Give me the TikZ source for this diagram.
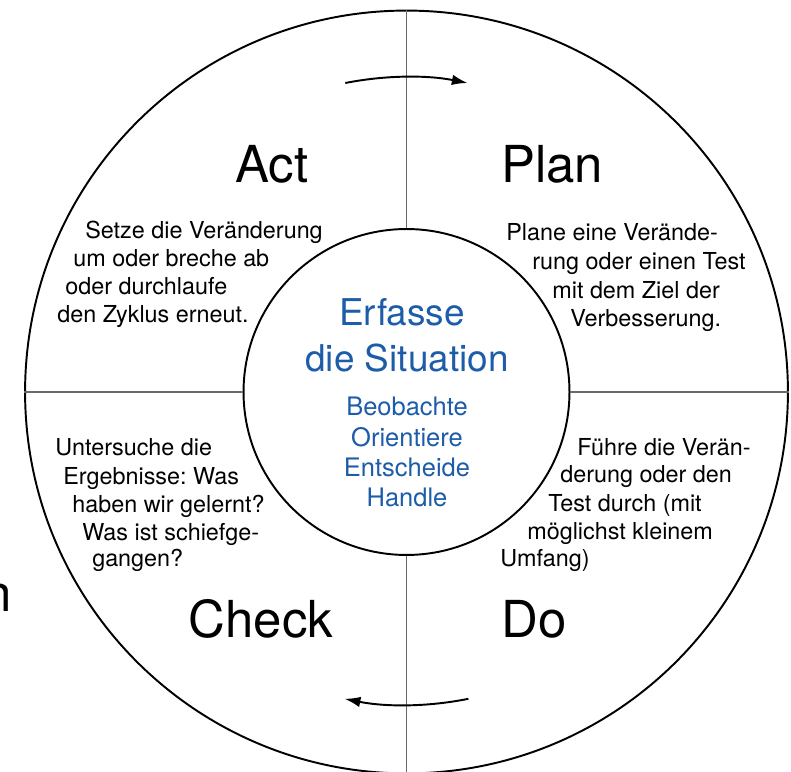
\documentclass[tikz,border=0pt]{standalone}
\usepackage{fontspec}
\setmainfont{TeX Gyre Heros}
\usetikzlibrary{arrows.meta}
\definecolor{situationBlue}{RGB}{28, 92, 168}
\definecolor{crossGray}{RGB}{105, 105, 105}
\frenchspacing

\begin{document}
\begin{tikzpicture}[x=0.02cm,y=0.02cm,
    ring/.style={draw,circle,line width=1.1pt,inner sep=0pt},
    crossLine/.style={draw=crossGray,line width=1.1pt},
    cycleArrow/.style={line width=1.1pt,-{Latex[length=9pt,width=6pt]}},
    phase/.style={font=\fontsize{29}{34}\selectfont,anchor=base,inner sep=0pt},
    body/.style={font=\fontsize{13.3}{16}\selectfont,anchor=base west,inner sep=0pt},
    title/.style={font=\fontsize{21}{25}\selectfont,text=situationBlue,anchor=base,inner sep=0pt},
    steps/.style={font=\fontsize{14.5}{17}\selectfont,text=situationBlue,anchor=base,inner sep=0pt}]
  \useasboundingbox (0,0) rectangle (791,771);

  % Circles
  \coordinate (c) at (406.5,379);
  \node[ring,minimum size=15.26cm] (outer) at (c) {};
  \node[ring,minimum size=6.52cm] (inner) at (c) {};

  % Quadrant lines
  \draw[crossLine] (outer.north) -- (inner.north);
  \draw[crossLine] (outer.south) -- (inner.south);
  \draw[crossLine] (outer.west) -- (inner.west);
  \draw[crossLine] (outer.east) -- (inner.east);

  % Direction arrows
  \coordinate (topStart) at ([shift={(101.2:315)}]c);
  \coordinate (bottomStart) at ([shift={(-78.6:313)}]c);
  \draw[cycleArrow] (topStart) arc[start angle=101.2,end angle=78.8,radius=315];
  \draw[cycleArrow] (bottomStart) arc[start angle=-78.6,end angle=-101.4,radius=313];

  % Phase names
  \node[phase] (act) at (272,588) {Act};
  \node[phase] (plan) at (552,588) {Plan};
  \node[phase] (check) at (261,133) {Check};
  \node[phase] (do) at (534,133) {Do};
  \node[phase,anchor=base east] (cutoff) at (12,159) {n};

  % Act text
  \node[body] (act1) at (85,532) {Setze die Veränderung};
  \node[body] (act2) at (73,504) {um oder breche ab};
  \node[body] (act3) at (65,476) {oder durchlaufe};
  \node[body] (act4) at (57,448) {den Zyklus erneut.};

  % Plan text
  \node[body] (plan1) at (506,530) {Plane eine Verände-};
  \node[body] (plan2) at (532,501) {rung oder einen Test};
  \node[body] (plan3) at (552,472) {mit dem Ziel der};
  \node[body] (plan4) at (570,444) {Verbesserung.};

  % Check text
  \node[body] (check1) at (55,315) {Untersuche die};
  \node[body] (check2) at (63,286) {Ergebnisse: Was};
  \node[body] (check3) at (72,258) {haben wir gelernt?};
  \node[body] (check4) at (82,230) {Was ist schiefge-};
  \node[body] (check5) at (92,204) {gangen?};

  % Do text
  \node[body] (do1) at (577,315) {Führe die Verän-};
  \node[body] (do2) at (560,288) {derung oder den};
  \node[body] (do3) at (548,259) {Test durch (mit};
  \node[body] (do4) at (527,231) {möglichst kleinem};
  \node[body] (do5) at (500,204) {Umfang)};

  % Centre
  \node[title] (title1) at (402,445) {Erfasse};
  \node[title] (title2) at (407,399) {die Situation};
  \node[steps] (observe) at (407,355) {Beobachte};
  \node[steps] (orient) at (407,324) {Orientiere};
  \node[steps] (decide) at (407,294) {Entscheide};
  \node[steps] (handle) at (407,264) {Handle};
\end{tikzpicture}
\end{document}
